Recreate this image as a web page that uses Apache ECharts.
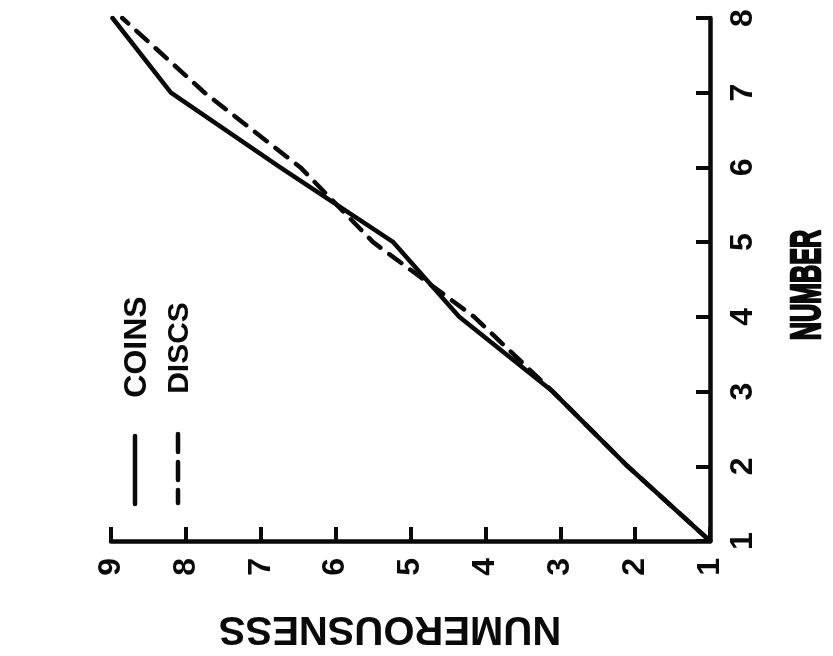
<!DOCTYPE html>
<html>
<head>
<meta charset="utf-8">
<script src="https://cdn.jsdelivr.net/npm/echarts@6/dist/echarts.min.js"></script>
<style>
html,body{margin:0;padding:0;background:#fff;}
#c{width:833px;height:656px;}
</style>
</head>
<body>
<div id="c"></div>
<script>
// Data read from the (rotated) reference figure
const numbers = [1, 2, 3, 4, 5, 6, 7, 8];
const coinsNumerousness = [1, 2.1, 3.1, 4.35, 5.23, 6.74, 8.2, 8.98];
const discsNumerousness = [1, 2.1, 3.1, 4.15, 5.5, 6.47, 7.75, 8.85];
const numerousnessTicks = [1, 2, 3, 4, 5, 6, 7, 8, 9];
const numberTicks = [1, 2, 3, 4, 5, 6, 7, 8];
const seriesNames = ['COINS', 'DISCS'];
const xTitle = 'NUMBER';
const yTitle = 'NUMEROUSNESS';

const FONT = '"Liberation Sans", Arial, sans-serif';
const INK = '#0a0a0a';

const coinsData = numbers.map((n, i) => [coinsNumerousness[i], n]);
const discsData = numbers.map((n, i) => [discsNumerousness[i], n]);

const chart = echarts.init(document.getElementById('c'), null, {renderer: 'canvas'});
chart.setOption({
  backgroundColor: '#ffffff',
  animation: false,
  grid: {left: 111, right: 123, top: 18, bottom: 115, containLabel: false, outerBoundsMode: 'none'},
  xAxis: {
    type: 'value',
    min: numerousnessTicks[0],
    max: numerousnessTicks[numerousnessTicks.length - 1],
    interval: 1,
    inverse: true,
    position: 'bottom',
    splitLine: {show: false},
    axisLine: {show: true, lineStyle: {color: INK, width: 4.5}},
    axisTick: {show: true, inside: true, length: 14, lineStyle: {color: INK, width: 4}},
    axisLabel: {rotate: 90, margin: 17, fontSize: 32, fontWeight: 'bold', color: INK, fontFamily: FONT,
      formatter: v => String(v)}
  },
  yAxis: {
    type: 'value',
    min: numberTicks[0],
    max: numberTicks[numberTicks.length - 1],
    interval: 1,
    position: 'right',
    splitLine: {show: false},
    axisLine: {show: true, lineStyle: {color: INK, width: 4.5}},
    axisTick: {show: true, inside: true, length: 14, lineStyle: {color: INK, width: 4}},
    axisLabel: {rotate: 90, margin: 17, fontSize: 32, fontWeight: 'bold', color: INK, fontFamily: FONT,
      formatter: v => String(v)}
  },
  series: [
    {
      name: seriesNames[0], type: 'line', data: coinsData, symbol: 'none', z: 3,
      lineStyle: {color: INK, width: 4.5, cap: 'round', join: 'round'}
    },
    {
      name: seriesNames[1], type: 'line', data: discsData, symbol: 'none', z: 4,
      lineStyle: {color: INK, width: 4.5, type: [15, 11], cap: 'round', join: 'round'}
    }
  ],
  graphic: [
    {type: 'line', shape: {x1: 135, y1: 436, x2: 135, y2: 504},
      style: {stroke: INK, lineWidth: 4.5, lineCap: 'round'}},
    {type: 'line', shape: {x1: 178, y1: 434, x2: 178, y2: 503},
      style: {stroke: INK, lineWidth: 4.5, lineCap: 'round', lineDash: [18, 10]}},
    {type: 'text', x: 137, y: 347, rotation: Math.PI / 2,
      style: {text: seriesNames[0], font: 'bold 32px ' + FONT, fill: INK, align: 'center', verticalAlign: 'middle'}},
    {type: 'text', x: 180, y: 348, rotation: Math.PI / 2,
      style: {text: seriesNames[1], font: 'bold 30px ' + FONT, fill: INK, align: 'center', verticalAlign: 'middle'}},
    {type: 'text', x: 808, y: 285, rotation: Math.PI / 2, scaleX: 0.6,
      style: {text: xTitle, font: 'bold 42px ' + FONT, fill: INK, stroke: INK, lineWidth: 2.5,
        align: 'center', verticalAlign: 'middle'}},
    {type: 'text', x: 390, y: 628, rotation: Math.PI,
      style: {text: yTitle, font: 'bold 40px ' + FONT, fill: INK, align: 'center', verticalAlign: 'middle'}}
  ]
});
</script>
</body>
</html>
